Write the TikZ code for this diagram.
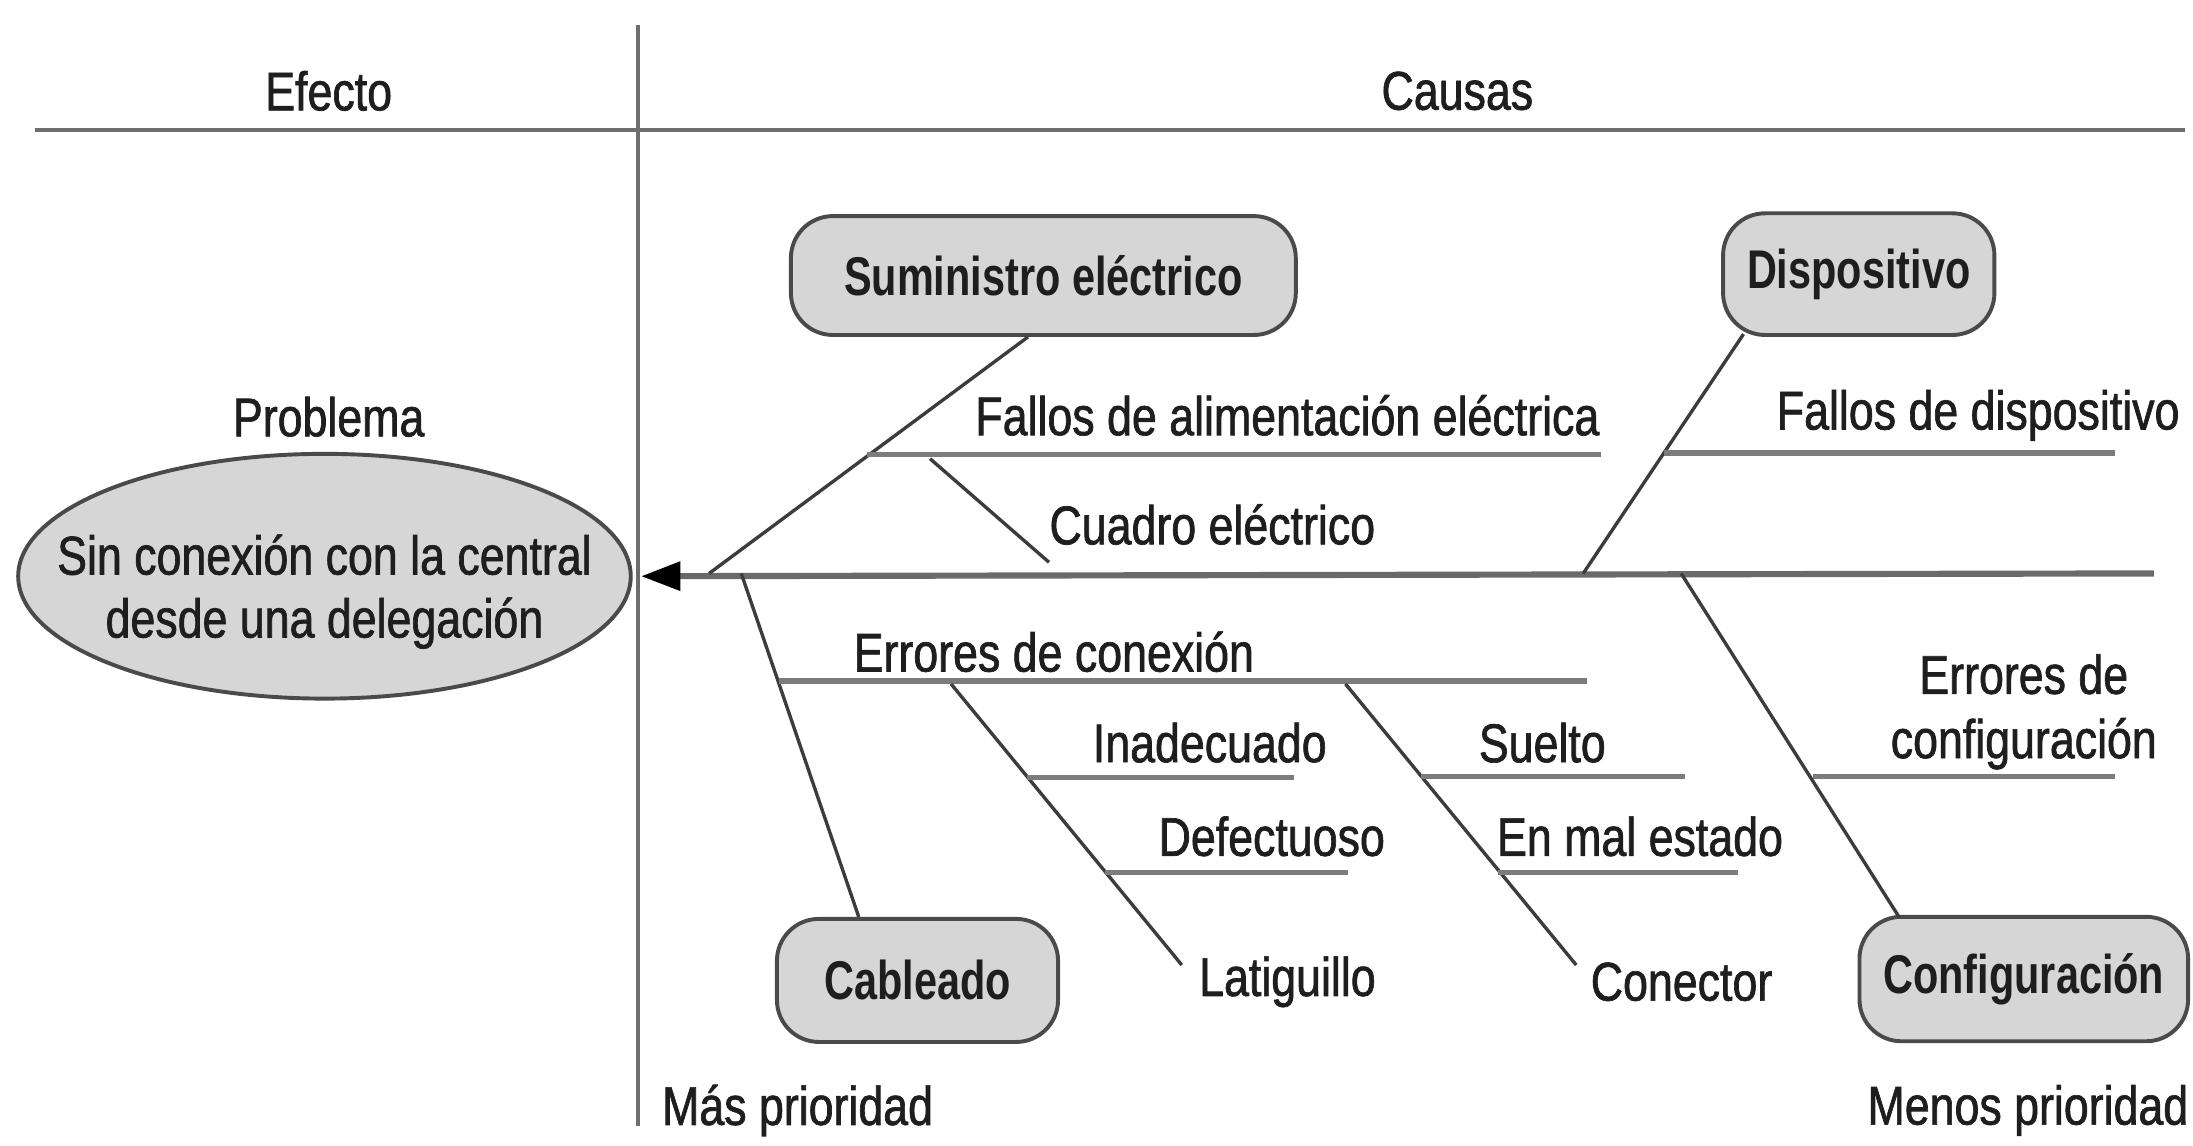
\documentclass[tikz,border=0pt]{standalone}
\usepackage{fontspec}
\setmainfont[FakeStretch=0.82,FakeBold=1.2]{Liberation Sans}
\newfontfamily\boxfont[FakeStretch=0.76]{Liberation Sans}
\usetikzlibrary{arrows.meta,shapes.geometric,calc}
\definecolor{txt}{HTML}{1E1E1E}
\definecolor{boxfill}{HTML}{D6D6D6}
\definecolor{boxline}{HTML}{4A4A4A}
\definecolor{ruleline}{HTML}{6E6E6E}
\definecolor{spinecol}{HTML}{6A6A6A}
\definecolor{branchcol}{HTML}{3C3C3C}
\definecolor{subcol}{HTML}{7C7C7C}
\tikzset{
  lbl/.style={font=\fontsize{19.5}{23}\selectfont, text=txt, inner sep=0pt},
  catbox/.style={draw=boxline, fill=boxfill, line width=1.4pt, rounded corners=15pt,
    font=\boxfont\bfseries\fontsize{19.5}{23}\selectfont, text=txt, inner sep=0pt},
  probell/.style={ellipse, draw=boxline, fill=boxfill, line width=1.4pt, inner sep=0pt,
    minimum width=219pt, minimum height=87.5pt},
  probtxt/.style={align=center, inner sep=0pt,
    font=\fontsize{19.5}{22.5}\selectfont, text=txt},
  hdrline/.style={draw=ruleline, line width=1.5pt},
  spineline/.style={draw=spinecol, line width=2.2pt},
  branchline/.style={draw=branchcol, line width=1.2pt},
  subline/.style={draw=subcol, line width=1.9pt},
}
\begin{document}
\begin{tikzpicture}[x=0.5pt,y=-0.5pt]
\useasboundingbox[fill=white] (0,0) rectangle (1568,819);

% header rules
\coordinate (hL) at (25,93);
\coordinate (hR) at (1562,93);
\coordinate (vT) at (456,18);
\coordinate (vB) at (456,805);
\draw[hdrline] (hL) -- (hR);
\draw[hdrline] (vT) -- (vB);
\node[lbl] (efecto) at (235,65) {Efecto};
\node[lbl] (causas) at (1042,65) {Causas};

% problem
\node[lbl] (problema) at (235,298) {Problema};
\node[probell] (prob) at (232,412) {};
\node[probtxt] (probt) at (232,423) {Sin conexión con la central\\desde una delegación};

% category boxes
\node[catbox, minimum width=180.5pt, minimum height=42.5pt] (sum) at (746,197) {Suministro eléctrico};
\node[catbox, minimum width=97pt, minimum height=43.5pt] (disp) at (1329,196) {Dispositivo};
\node[catbox, minimum width=100.5pt, minimum height=44pt] (cab) at (656,701) {Cableado};
\node[catbox, minimum width=117.5pt, minimum height=44.5pt] (conf) at (1447,700) {Configuración};

% spine
\coordinate (spR) at (1540,410);
\coordinate (jS) at (507,410);
\coordinate (jC) at (530,410);
\coordinate (jD) at (1132,410);
\coordinate (jF) at (1202,410);
\draw[spineline, shorten >=3pt, -{Triangle[length=14pt,width=10pt,fill=black,color=black]}] (spR) -- (prob.east);

% main branches
\draw[branchline] (jS) -- ($(sum.south)+(-11,0)$);
\draw[branchline] (jD) -- ($(disp.south west)+(16,-2)$);
\draw[branchline] (jC) -- ($(cab.north)+(-42,0)$);
\draw[branchline] (jF) -- ($(conf.north west)+(30,2)$);

% Suministro electrico
\coordinate (fa1) at (620,325);
\coordinate (fa2) at (1145,325);
\draw[subline] (fa1) -- (fa2);
\node[lbl, anchor=west] (fallosAl) at (697,297) {Fallos de alimentación eléctrica};
\coordinate (cu1) at (665,328);
\coordinate (cu2) at (750,402);
\draw[branchline] (cu1) -- (cu2);
\node[lbl, anchor=west] (cuadro) at (750,375) {Cuadro eléctrico};

% Dispositivo
\coordinate (fd1) at (1190,324);
\coordinate (fd2) at (1512,324);
\draw[subline] (fd1) -- (fd2);
\node[lbl, anchor=west] (fallosDi) at (1270,297) {Fallos de dispositivo};

% Cableado
\coordinate (ec1) at (557,487);
\coordinate (ec2) at (1135,487);
\draw[subline] (ec1) -- (ec2);
\node[lbl, anchor=west] (errCon) at (610,466) {Errores de conexión};

\coordinate (la1) at (680,489);
\coordinate (la2) at (845,690);
\draw[branchline] (la1) -- (la2);
\node[lbl, anchor=west] (latig) at (857,702) {Latiguillo};
\coordinate (in1) at (734,556);
\coordinate (in2) at (925,556);
\draw[subline] (in1) -- (in2);
\node[lbl, anchor=west] (inad) at (781,531) {Inadecuado};
\coordinate (de1) at (790,624);
\coordinate (de2) at (964,624);
\draw[subline] (de1) -- (de2);
\node[lbl, anchor=west] (defec) at (828,598) {Defectuoso};

\coordinate (co1) at (962,489);
\coordinate (co2) at (1127,690);
\draw[branchline] (co1) -- (co2);
\node[lbl, anchor=west] (conec) at (1137,702) {Conector};
\coordinate (su1) at (1016,555);
\coordinate (su2) at (1205,555);
\draw[subline] (su1) -- (su2);
\node[lbl, anchor=west] (suelto) at (1057,531) {Suelto};
\coordinate (em1) at (1071,624);
\coordinate (em2) at (1243,624);
\draw[subline] (em1) -- (em2);
\node[lbl, anchor=west] (malest) at (1070,598) {En mal estado};

% Configuracion
\coordinate (cf1) at (1296,555);
\coordinate (cf2) at (1512,555);
\draw[subline] (cf1) -- (cf2);
\node[lbl, align=center] (errConf) at (1447,509) {Errores de\\configuración};

% priorities
\node[lbl, anchor=west] (mas) at (473,794) {Más prioridad};
\node[lbl, anchor=east] (menos) at (1565,794) {Menos prioridad};
\end{tikzpicture}
\end{document}
